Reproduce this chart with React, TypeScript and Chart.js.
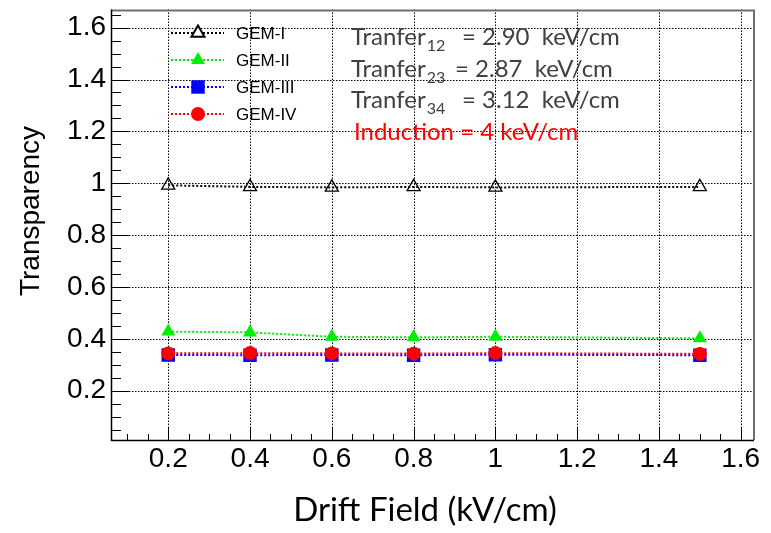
import React, { useEffect, useRef } from 'react';
import { Chart, registerables } from 'chart.js';
import { drawPoint } from 'chart.js/helpers';

Chart.register(...registerables);

// ---------- data ----------
const driftField = [0.2, 0.4, 0.6, 0.8, 1.0, 1.5];
const gem1 = [0.992, 0.986, 0.984, 0.986, 0.984, 0.986];
const gem2 = [0.428, 0.425, 0.408, 0.406, 0.408, 0.402];
const gem3 = [0.338, 0.337, 0.338, 0.337, 0.339, 0.337];
const gem4 = [0.344, 0.345, 0.344, 0.343, 0.345, 0.342];
const seriesNames = ['GEM-I', 'GEM-II', 'GEM-III', 'GEM-IV'];

const xTicks = [0.2, 0.4, 0.6, 0.8, 1.0, 1.2, 1.4, 1.6];
const xTickLabels = ['0.2', '0.4', '0.6', '0.8', '1', '1.2', '1.4', '1.6'];
const yTicks = [0.2, 0.4, 0.6, 0.8, 1.0, 1.2, 1.4, 1.6];
const yTickLabels = ['0.2', '0.4', '0.6', '0.8', '1', '1.2', '1.4', '1.6'];

const xTitle = 'Drift Field (kV/cm)';
const yTitle = 'Transparency';

const transferNames = ['Tranfer', 'Tranfer', 'Tranfer'];
const transferSubs = ['12', '23', '34'];
const transferValues = ['= 2.90  keV/cm', '= 2.87  keV/cm', '= 3.12  keV/cm'];
const inductionText = 'Induction = 4 keV/cm';

// ---------- styles ----------
const seriesStyle = [
  { color: '#000000', fill: 'rgba(0,0,0,0)', point: 'triangle', radius: 7.5, bw: 1.3 },
  { color: '#00ee00', fill: '#00ee00', point: 'triangle', radius: 8, bw: 0 },
  { color: '#0000ff', fill: '#0000ff', point: 'rect', radius: 9.5, bw: 0 },
  { color: '#ff0000', fill: '#ff0000', point: 'circle', radius: 7, bw: 0 },
];
const seriesValues = [gem1, gem2, gem3, gem4];
const tickFont = '"Liberation Sans", Arial, sans-serif';

function drawGrid(chart: any) {
  const { ctx, chartArea: a, scales } = chart;
  ctx.save();
  ctx.strokeStyle = '#000000';
  ctx.lineWidth = 1;
  ctx.setLineDash([1.5, 1.5]);
  ctx.beginPath();
  xTicks.forEach((v) => {
    const x = Math.round(scales.x.getPixelForValue(v)) + 0.5;
    ctx.moveTo(x, a.top);
    ctx.lineTo(x, a.bottom);
  });
  yTicks.forEach((v) => {
    const y = Math.round(scales.y.getPixelForValue(v)) + 0.5;
    ctx.moveTo(a.left, y);
    ctx.lineTo(a.right, y);
  });
  ctx.stroke();
  ctx.restore();
}

const gridPlugin = {
  id: 'rootGrid',
  beforeDatasetsDraw(chart: any) {
    drawGrid(chart);
  },
};

const overlayPlugin = {
  id: 'rootOverlay',
  afterDraw(chart: any) {
    const { ctx, chartArea: a, scales } = chart;
    const xs = scales.x;
    const ys = scales.y;
    ctx.save();
    ctx.setLineDash([]);

    // inward ticks
    ctx.strokeStyle = '#000';
    ctx.lineWidth = 1;
    ctx.beginPath();
    for (let k = Math.ceil(ys.min / 0.05 - 1e-6); k * 0.05 <= ys.max + 1e-9; k++) {
      const y = Math.round(ys.getPixelForValue(k * 0.05)) + 0.5;
      const len = k % 4 === 0 ? 19 : 10;
      ctx.moveTo(a.left, y);
      ctx.lineTo(a.left + len, y);
    }
    for (let k = Math.ceil(xs.min / 0.05 - 1e-6); k * 0.05 <= xs.max + 1e-9; k++) {
      const x = Math.round(xs.getPixelForValue(k * 0.05)) + 0.5;
      const len = k % 4 === 0 ? 13 : 6;
      ctx.moveTo(x, a.bottom);
      ctx.lineTo(x, a.bottom - len);
    }
    ctx.stroke();

    // frame
    ctx.strokeStyle = '#6e6e6e';
    ctx.lineWidth = 2;
    ctx.beginPath();
    ctx.moveTo(a.left, a.top + 1);
    ctx.lineTo(a.right + 1, a.top + 1);
    ctx.moveTo(a.right + 1, a.top);
    ctx.lineTo(a.right + 1, a.bottom);
    ctx.stroke();
    ctx.strokeStyle = '#000';
    ctx.lineWidth = 1.5;
    ctx.beginPath();
    ctx.moveTo(a.left + 0.5, a.top);
    ctx.lineTo(a.left + 0.5, a.bottom + 0.5);
    ctx.lineTo(a.right + 1, a.bottom + 0.5);
    ctx.stroke();

    // legend
    ctx.font = '17px "Liberation Sans", Arial, sans-serif';
    ctx.textBaseline = 'middle';
    ctx.textAlign = 'left';
    seriesNames.forEach((name, i) => {
      const st = seriesStyle[i];
      const y = 33 + i * 27;
      ctx.save();
      ctx.strokeStyle = st.color;
      ctx.lineWidth = 2;
      ctx.setLineDash([2, 2]);
      ctx.beginPath();
      ctx.moveTo(171, y);
      ctx.lineTo(224, y);
      ctx.stroke();
      ctx.setLineDash([]);
      ctx.fillStyle = i === 0 ? '#ffffff' : st.fill;
      ctx.strokeStyle = st.color;
      drawPoint(ctx, { pointStyle: st.point, radius: st.radius, borderWidth: st.bw, rotation: 0 } as any, 198, y);
      ctx.restore();
      ctx.fillStyle = '#000';
      ctx.fillText(name, 236, y + 1);
    });

    // annotation text
    ctx.textBaseline = 'alphabetic';
    const mainFont = '24px Lato, "Open Sans", sans-serif';
    const subFont = '16px Lato, "Open Sans", sans-serif';
    transferNames.forEach((nm, i) => {
      const base = 45 + i * 31.5;
      ctx.fillStyle = '#404040';
      ctx.font = mainFont;
      ctx.fillText(nm, 351, base);
      const w = ctx.measureText(nm).width;
      ctx.font = subFont;
      ctx.fillText(transferSubs[i], 351 + w + 1, base + 6);
      ctx.font = mainFont;
      const eqX = i === 1 ? 455 : 462;
      ctx.fillText(transferValues[i], eqX, base);
    });
    ctx.fillStyle = '#ff0000';
    ctx.font = mainFont;
    ctx.fillText(inductionText, 354, 45 + 3 * 31.5);

    // axis titles
    ctx.fillStyle = '#000';
    ctx.font = '33px Lato, "Open Sans", sans-serif';
    ctx.textAlign = 'center';
    ctx.fillText(xTitle, 425, 521);
    ctx.save();
    ctx.translate(39, 211);
    ctx.rotate(-Math.PI / 2);
    ctx.font = '28px "Liberation Sans", Arial, sans-serif';
    ctx.fillText(yTitle, 0, 0);
    ctx.restore();

    ctx.restore();
  },
};

export default function App() {
  const ref = useRef<HTMLCanvasElement | null>(null);
  useEffect(() => {
    if (!ref.current) return;
    const datasets = seriesNames.map((name, i) => {
      const st = seriesStyle[i];
      return {
        label: name,
        data: driftField.map((x, j) => ({ x, y: seriesValues[i][j] })),
        borderColor: st.color,
        backgroundColor: st.fill,
        borderWidth: 2,
        borderDash: [2, 2],
        pointStyle: st.point,
        pointRadius: st.radius,
        pointBackgroundColor: st.fill,
        pointBorderColor: st.color,
        pointBorderWidth: st.bw,
        tension: 0,
        fill: false,
        order: 3 - i,
      };
    });
    const chart = new Chart(ref.current, {
      type: 'line',
      data: { datasets },
      options: {
        animation: false,
        responsive: false,
        maintainAspectRatio: false,
        layout: { padding: { top: 4, right: 18, left: 0, bottom: 0 } },
        plugins: { legend: { display: false }, tooltip: { enabled: false } },
        scales: {
          x: {
            type: 'linear',
            min: 0.06,
            max: 1.63,
            afterBuildTicks: (s: any) => {
              s.ticks = xTicks.map((v) => ({ value: v }));
            },
            afterFit: (s: any) => {
              s.height = 93;
              s.paddingLeft = 0;
              s.paddingRight = 0;
            },
            grid: { display: false, drawTicks: false },
            border: { display: false },
            ticks: {
              padding: 2,
              color: '#000',
              font: { family: tickFont, size: 28 },
              maxRotation: 0,
              autoSkip: false,
              callback: (v: any) => {
                const idx = xTicks.findIndex((t) => Math.abs(t - v) < 1e-6);
                return idx >= 0 ? xTickLabels[idx] : '';
              },
            },
          },
          y: {
            type: 'linear',
            min: 0.01,
            max: 1.67,
            afterBuildTicks: (s: any) => {
              s.ticks = yTicks.map((v) => ({ value: v }));
            },
            afterFit: (s: any) => {
              s.width = 111;
              s.paddingTop = 0;
              s.paddingBottom = 0;
            },
            grid: { display: false, drawTicks: false },
            border: { display: false },
            ticks: {
              padding: 5,
              color: '#000',
              font: { family: tickFont, size: 28 },
              autoSkip: false,
              callback: (v: any) => {
                const idx = yTicks.findIndex((t) => Math.abs(t - v) < 1e-6);
                return idx >= 0 ? yTickLabels[idx] : '';
              },
            },
          },
        },
      },
      plugins: [gridPlugin, overlayPlugin],
    });
    return () => chart.destroy();
  }, []);
  return (
    <div style={{ position: 'absolute', left: 0, top: 0, width: 771, height: 533, background: '#fff' }}>
      <canvas ref={ref} width={771} height={533} style={{ display: 'block' }} />
    </div>
  );
}
